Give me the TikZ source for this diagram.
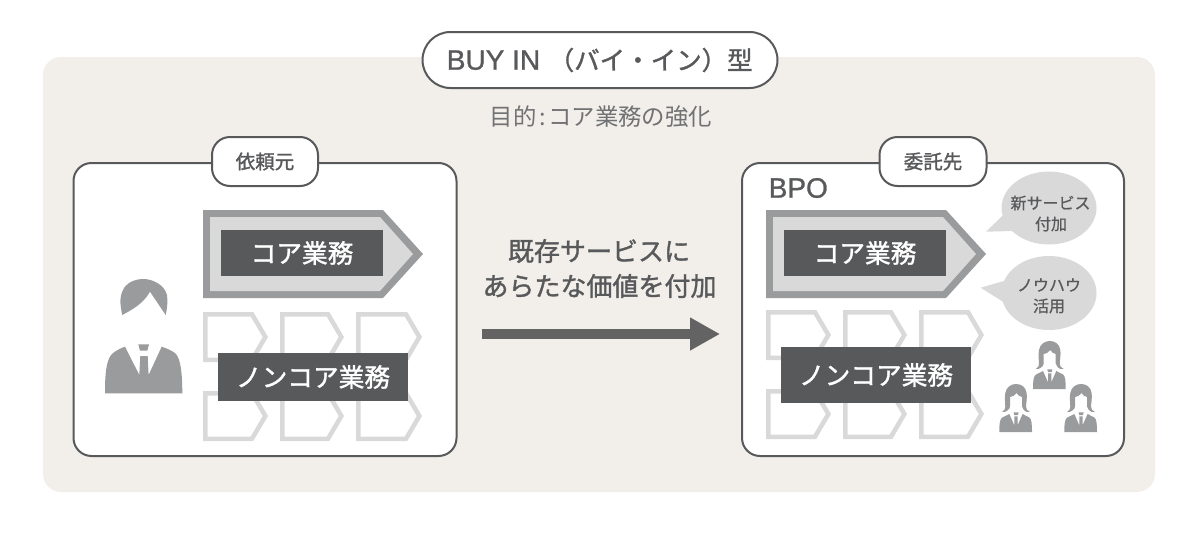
\documentclass[tikz,border=0pt]{standalone}
\usepackage{fontspec}
\setmainfont{Noto Sans CJK JP}
\newfontfamily\cjkmed[FakeBold=1.3]{Noto Sans CJK JP}
\newfontfamily\cjksemi[FakeBold=0.7]{Noto Sans CJK JP}
\newfontfamily\latinface[FakeBold=1]{Liberation Sans}
\usetikzlibrary{arrows.meta}
\definecolor{inkc}{HTML}{58595B}
\definecolor{bgc}{HTML}{F2EFEA}
\definecolor{midc}{HTML}{9A9B9D}
\definecolor{lightc}{HTML}{D9D9D9}
\definecolor{arrowc}{HTML}{636363}
\newcommand{\fsz}[1]{\fontsize{#1}{#1}\selectfont}
\tikzset{
  x=1pt,y=-1pt,
  panel/.style={draw=inkc,line width=2pt,fill=white,rounded corners=18pt,inner sep=0pt},
  tagbox/.style={draw=inkc,line width=2pt,fill=white,rounded corners=18pt,inner sep=0pt,text=inkc,font=\cjkmed\fsz{19.5}},
  darkbox/.style={fill=inkc,text=white,inner sep=0pt,font=\cjkmed\fsz{25.7}},
  smallarrow/.style={draw=lightc,line width=4.5pt,fill=white,miter limit=10},
  bubbletext/.style={text=inkc,inner sep=0pt,font=\cjksemi\fsz{16}},
}
% light process arrow: left edge, width, top edge
\newcommand{\smallarr}[3]{%
  \draw[smallarrow] ({#1+2.25},{#3+2.25}) -- ({#1+#2-16},{#3+2.25}) -- ({#1+#2-2.6},{#3+25}) -- ({#1+#2-16},{#3+47.75}) -- ({#1+2.25},{#3+47.75}) -- cycle;}
% core arrow: left edge
\newcommand{\corearr}[1]{%
  \fill[midc] (#1,210) -- ({#1+180},210) -- ({#1+220},254) -- ({#1+180},298) -- (#1,298) -- cycle;
  \fill[lightc] ({#1+7},217) -- ({#1+177},217) -- ({#1+210},254) -- ({#1+177},291) -- ({#1+7},291) -- cycle;}
% woman icon: left, top
\newcommand{\womanicon}[2]{%
  \begin{scope}[shift={(#1,#2)}]
    \fill[midc] (2.7,28) .. controls (5.5,26.5) and (6.2,24.5) .. (6,22.3)
      .. controls (5.6,17) and (5.4,13) .. (6,9)
      .. controls (7,3) and (12,0) .. (16.7,0)
      .. controls (22,0) and (26.5,3) .. (27.3,9)
      .. controls (28,13) and (27,18) .. (26.7,22.3)
      .. controls (26.6,25) and (28,27) .. (30.7,28)
      .. controls (28,28.5) and (25.5,27.5) .. (24.5,26)
      .. controls (23.3,25) and (22.7,24) .. (22.7,22.3)
      -- (22.7,13) .. controls (20,12.5) and (18.5,11) .. (17.3,9)
      .. controls (15.5,11.5) and (13,13) .. (10.7,13)
      -- (10.7,22.3) .. controls (10.7,24) and (9.8,25.5) .. (8.3,26.3)
      .. controls (6.5,28) and (4.5,28.5) .. (2.7,28) -- cycle;
    \fill[midc] (0,48) .. controls (0,40) and (0.5,35) .. (3,33.5)
      -- (10,30) -- (15,41.3) -- (15,32.3) -- (18.3,32.3) -- (18.3,41.3) -- (23.3,30)
      -- (30,33.5) .. controls (32.3,35) and (32.7,40) .. (32.7,48) -- cycle;
    \fill[midc] (14.3,28.3) -- (19.3,28.3) -- (18.7,31) -- (15,31) -- cycle;
  \end{scope}}
\begin{document}
\begin{tikzpicture}
\useasboundingbox (0,0) rectangle (1200,538);
% background
\node[fill=bgc,rounded corners=18pt,minimum width=1112pt,minimum height=435pt,inner sep=0pt] (bg) at (599,274.5) {};
% title
\node[draw=inkc,line width=2pt,fill=white,rounded corners=28pt,minimum width=355pt,minimum height=56pt,inner sep=0pt] (titlebox) at (600,60) {};
\node[text=inkc,inner sep=0pt,font=\cjkmed\fsz{25.5}] (titletext) at (599.75,60) {{\latinface\fsz{28}BUY IN}\kern8.5pt （バイ・イン）型};
\node[text=inkc!85!white,inner sep=0pt,font=\fsz{23.4}] (subtitle) at (601,117) {目的\kern2.5pt:\kern2.5pt コア業務の強化};
% left panel
\node[panel,minimum width=383pt,minimum height=293pt] (leftpanel) at (265,309.5) {};
\node[tagbox,minimum width=106pt,minimum height=49pt] (lefttag) at (265,161.5) {依頼元};
\corearr{203}
\node[darkbox,minimum width=162pt,minimum height=46pt] (leftcore) at (302,253) {コア業務};
\smallarr{203}{65}{312}
\smallarr{280}{64}{312}
\smallarr{356}{66}{312}
\smallarr{203}{65}{391}
\smallarr{280}{64}{391}
\smallarr{356}{66}{391}
\node[darkbox,minimum width=190pt,minimum height=48pt] (leftnon) at (313,377) {ノンコア業務};
% man icon
\fill[midc] (122.3,315) .. controls (120,304) and (119,297) .. (124,288)
  .. controls (129,281) and (137,279) .. (143,279)
  .. controls (152,279) and (164,284) .. (167,295)
  .. controls (168,302) and (167,309) .. (165.7,315)
  -- (150,291.7) .. controls (143,304) and (133,309) .. (122.3,315) -- cycle;
\fill[midc] (105,393.3) .. controls (105,375) and (106,360) .. (112,354)
  .. controls (115,351) and (120,348.5) .. (125,346.7)
  -- (139.3,375) -- (140.3,356) -- (147.7,356) -- (148.6,375) -- (161.7,346.7)
  .. controls (167,348.5) and (173,351) .. (176,354)
  .. controls (181,360) and (182.3,375) .. (182.3,393.3) -- cycle;
\fill[midc] (138.3,344.3) -- (149,344.3) -- (147.3,350.7) -- (140,350.7) -- cycle;
% centre
\node[text=inkc,inner sep=0pt,align=center,font=\cjkmed\fsz{26}] (midtop) at (599,251) {既存サービスに};
\node[text=inkc,inner sep=0pt,align=center,font=\cjkmed\fsz{26}] (midbot) at (599.5,286) {あらたな価値を付加};
\coordinate (arrowstart) at (482,334);
\coordinate (arrowend) at (720,334);
\draw[arrowc,line width=10pt,-{Triangle[length=30pt,width=31pt,sep=0pt]}] (arrowstart) -- (arrowend);
% right panel
\node[panel,minimum width=382pt,minimum height=293pt] (rightpanel) at (933,309.5) {};
\node[tagbox,minimum width=107pt,minimum height=49pt] (righttag) at (933,161.5) {委託先};
\node[text=inkc,inner sep=0pt,anchor=west,font=\latinface\fsz{28}] (bpo) at (768.5,188) {BPO};
\corearr{766}
\node[darkbox,minimum width=162pt,minimum height=46pt] (rightcore) at (865,253) {コア業務};
\smallarr{766}{65}{310}
\smallarr{843}{64}{310}
\smallarr{919}{65}{310}
\smallarr{766}{65}{389}
\smallarr{843}{64}{389}
\smallarr{919}{65}{389}
\node[darkbox,minimum width=190pt,minimum height=55.5pt] (rightnon) at (876,375) {ノンコア業務};
% bubbles
\fill[lightc] (1049,208) ellipse [x radius=47.5,y radius=36.5];
\coordinate (tailone) at (986,231.7);
\fill[lightc] (tailone) -- (1006.7,211.7) -- (1011.7,231) -- cycle;
\node[bubbletext] (bubaone) at (1050.5,203) {新サービス};
\node[bubbletext] (bubatwo) at (1051,224) {付加};
\fill[lightc] (1049,293) ellipse [x radius=47.5,y radius=37];
\coordinate (tailtwo) at (980.7,287.7);
\fill[lightc] (tailtwo) -- (1004,281) -- (1005,303) -- cycle;
\node[bubbletext] (bubbone) at (1049,285) {ノウハウ};
\node[bubbletext] (bubbtwo) at (1049,306) {活用};
% women
\womanicon{1033}{341}
\womanicon{999.3}{384}
\womanicon{1064.3}{384}
\end{tikzpicture}
\end{document}
